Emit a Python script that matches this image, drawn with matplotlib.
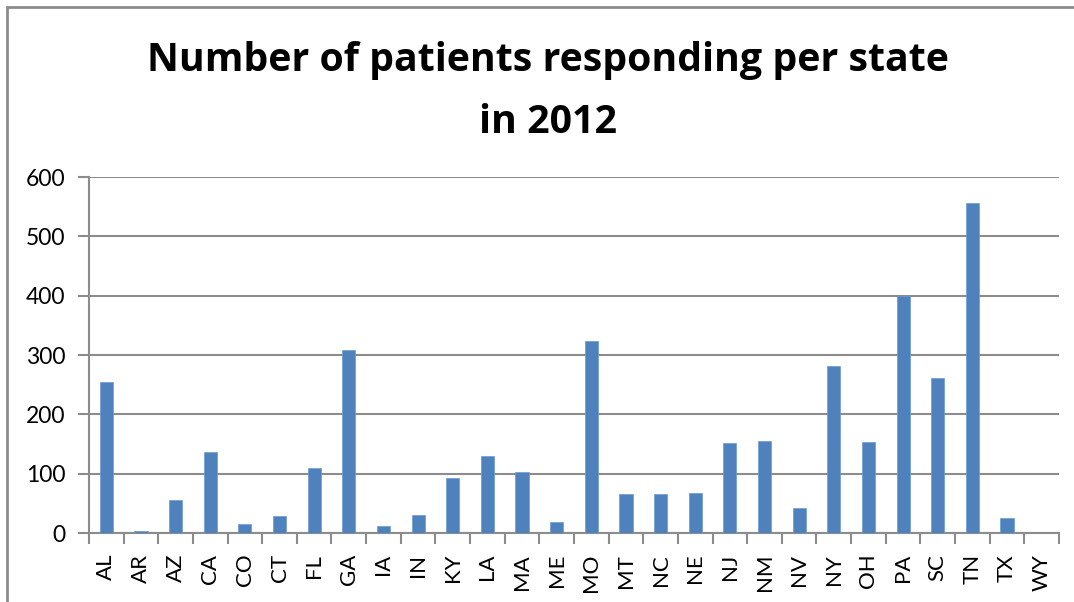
import matplotlib
matplotlib.use("Agg")
import matplotlib.pyplot as plt
from matplotlib.patches import Rectangle
import numpy as np

# 주별 응답 환자 수 (2012)
states = ["AL", "AR", "AZ", "CA", "CO", "CT", "FL", "GA", "IA", "IN", "KY", "LA", "MA", "ME",
          "MO", "MT", "NC", "NE", "NJ", "NM", "NV", "NY", "OH", "PA", "SC", "TN", "TX", "WY"]
patients = [255, 3, 55, 136, 16, 29, 109, 309, 11, 30, 92, 130, 102, 19,
            323, 66, 66, 68, 151, 155, 42, 282, 153, 400, 261, 557, 26, 0]
yticks = [0, 100, 200, 300, 400, 500, 600]

W, H = 1074, 602
FONT = "Lato"
fig = plt.figure(figsize=(W / 100, H / 100), dpi=100)
ax = fig.add_axes([89 / W, 1 - 533 / H, (1059 - 89) / W, (533 - 177) / H])

grid_c = "#8c8c8c"
x = np.arange(len(states))
ax.bar(x, patients, width=0.38, color="#4F81BD", edgecolor="#6a9ad6", linewidth=0.5, zorder=3)

ax.set_xlim(-0.5, len(states) - 0.5)
ax.set_ylim(0, 600)
ax.set_yticks(yticks)
ax.set_yticklabels([str(v) for v in yticks], fontsize=16.5, family=FONT)
ax.yaxis.grid(True, color=grid_c, linewidth=1.5, zorder=0)

ax.set_xticks(x)
ax.set_xticklabels(states, rotation=90, fontsize=16, family=FONT)
ax.tick_params(axis="x", length=0, pad=15)
ax.set_xticks(np.arange(-0.5, len(states)), minor=True)
ax.tick_params(axis="x", which="minor", length=8, color=grid_c, width=1.5)
ax.tick_params(axis="y", length=8, color=grid_c, width=1.5, pad=9)

for s in ("top", "right"):
    ax.spines[s].set_visible(False)
for s in ("left", "bottom"):
    ax.spines[s].set_color(grid_c)
    ax.spines[s].set_linewidth(1.5)

fig.text(548 / W, 1 - 71 / H, "Number of patients responding per state", ha="center", va="baseline",
         fontsize=28.3, fontweight="bold", family="Open Sans")
fig.text(548 / W, 1 - 133 / H, "in 2012", ha="center", va="baseline",
         fontsize=28.3, fontweight="bold", family="Open Sans")

# 차트 영역 테두리 (오른쪽/아래는 잘려 있음)
fig.patches.append(Rectangle((7 / W, -0.1), 1.2, 1.1 - 7 / H, transform=fig.transFigure,
                             fill=False, edgecolor="#8c8c8c", linewidth=2))

fig.savefig("out.png", dpi=100)
